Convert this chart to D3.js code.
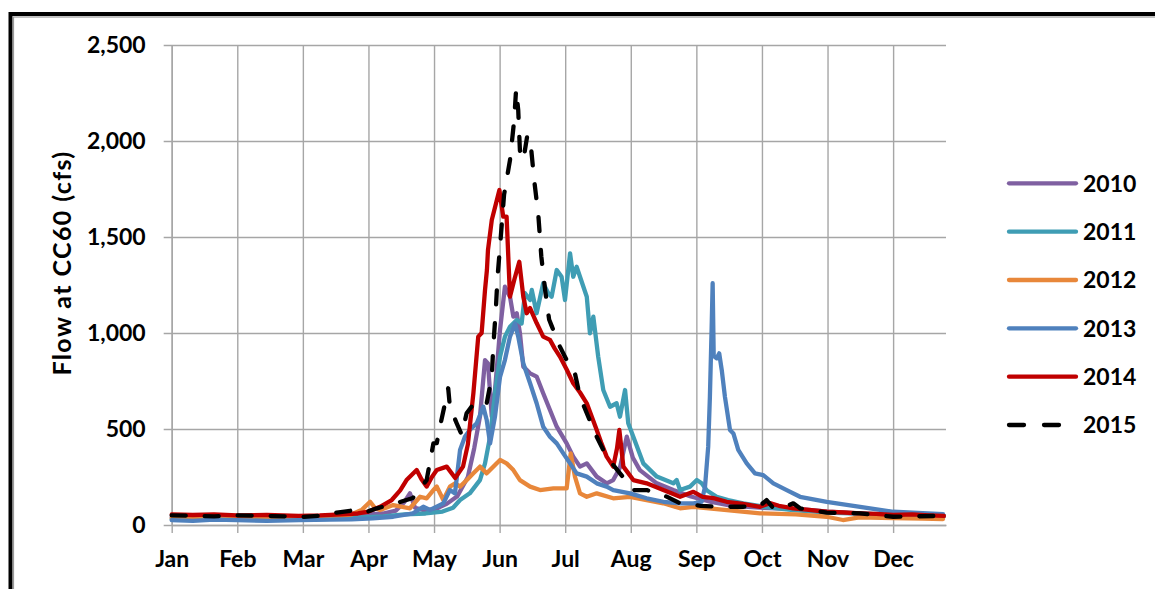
<!DOCTYPE html>
<html>
<head>
<meta charset="utf-8">
<script src="https://cdn.jsdelivr.net/npm/d3@7"></script>
<style>
  html, body { margin: 0; padding: 0; background: #fff; }
  svg { display: block; }
  text { font-family: Lato, "Open Sans", sans-serif; font-weight: 700; fill: #000; }
</style>
</head>
<body>
<svg id="chart" width="1155" height="589"></svg>
<script>
// ---------- DATA (day of year, flow in cfs) ----------
const months = ["Jan","Feb","Mar","Apr","May","Jun","Jul","Aug","Sep","Oct","Nov","Dec"];
const monthTickDays = [0,31,62,93,124,155,186,217,248,279,310,341];
const yTicks = [0,500,1000,1500,2000,2500];
const seriesNames = ["2010","2011","2012","2013","2014","2015"];

const flow2010 = [[0,40],[10,38],[20,42],[31,40],[45,40],[60,38],[75,42],[85,45],[93,55],[100,60],[106,75],[110,120],[112.6,165],[115,90],[120,75],[125,85],[130,110],[135,150],[140,250],[143,400],[145.7,564],[148.1,859],[149.5,842],[151.3,564],[152.8,700],[155.2,1016],[157.5,1241],[159.9,1189],[161.5,1085],[163.1,1103],[164.6,1000],[166.2,825],[169.4,790],[172.5,773],[175.6,686],[178.8,599],[182,512],[186.7,425],[189.8,356],[193,304],[196.2,321],[200.9,252],[205.6,217],[208.7,234],[211.9,300],[215.1,460],[218,350],[221.3,286],[229.3,217],[237.1,182],[245,150],[255,120],[265,100],[278,90],[290,85],[300,80],[310,70],[325,60],[341,50],[355,48],[365,45]];

const flow2011 = [[0,30],[10,28],[20,32],[31,30],[45,30],[60,28],[75,32],[90,40],[100,45],[110,55],[120,60],[128,70],[133,90],[136.3,130],[140.9,165],[145.7,234],[148.1,321],[150.5,460],[152.8,686],[155.2,877],[157.5,981],[159.9,1033],[163.1,1068],[165.4,1050],[167,1207],[169.4,1172],[170.2,1224],[172.5,1103],[175.6,1259],[178,1207],[179.6,1189],[182,1328],[184.3,1293],[185.9,1172],[188.3,1415],[189.8,1293],[191.4,1345],[193,1293],[196.2,1189],[197.7,998],[199.3,1085],[201.6,877],[204,703],[207.2,616],[210.3,634],[211.9,564],[214.3,703],[215.8,530],[218.2,460],[222.9,321],[229.3,252],[237.1,217],[238.7,234],[240.3,182],[245,200],[248.2,234],[250.5,217],[253,180],[257.6,147],[263,130],[270.1,113],[280,95],[293.8,78],[310,65],[325,60],[341,52],[355,50],[365,48]];

const flow2012 = [[0,35],[10,38],[20,32],[31,35],[45,33],[60,35],[75,40],[85,55],[90,80],[93.8,121],[96,90],[98.5,78],[104.7,104],[112.6,87],[117.4,147],[120.5,139],[123.7,182],[125.3,200],[128.4,130],[131.5,200],[134,217],[136.3,200],[140,240],[142.6,269],[145.7,304],[148.9,269],[152,304],[155.2,339],[158.3,321],[161.5,286],[164.6,234],[169.4,200],[174.1,182],[180.4,191],[186.7,191],[188.6,373],[190.6,252],[193,165],[196.2,147],[200.9,165],[208.7,139],[216.6,147],[224.5,130],[232.4,113],[240.3,87],[246.6,95],[260,80],[278.1,61],[295,55],[309.6,43],[317.3,26],[325,40],[341,36],[355,33],[364.6,31]];

const flow2013 = [[0,25],[10,22],[20,28],[31,25],[45,22],[60,25],[75,28],[85,30],[95,35],[104.7,43],[114.1,61],[118.9,95],[122.1,78],[128.4,113],[131.5,182],[133.9,165],[136.3,391],[138.6,460],[140.9,495],[144.2,530],[147.3,616],[148.9,547],[150.5,425],[152.8,564],[155.2,772],[157.5,859],[159.9,981],[162.3,1050],[163.8,981],[166.2,842],[169.4,738],[172.5,634],[175.6,512],[178.8,460],[182,425],[185.1,373],[188.3,321],[191.4,269],[196.2,252],[200.9,217],[205.6,200],[208.7,182],[216.6,165],[224.5,139],[232.4,121],[240.3,113],[246.6,113],[250.5,121],[252.1,200],[253.6,408],[254.4,668],[255.2,1016],[255.7,1259],[256.2,880],[257.6,868],[258.8,894],[260,807],[261.5,668],[263.9,495],[265.5,477],[267.8,391],[271.8,321],[275.7,269],[279.6,260],[284.4,217],[290.7,182],[297,147],[309.6,121],[325.4,95],[341.1,69],[355,62],[364.6,57]];

const flow2014 = [[0,55],[10,52],[20,55],[31,50],[45,52],[60,48],[70,50],[80,55],[88,60],[93,70],[98.5,95],[104,130],[108,180],[111,234],[115.8,286],[118,240],[120.5,200],[123,250],[125.3,286],[130,304],[134,245],[137.7,304],[140,420],[142.6,686],[144.9,981],[146.5,1000],[148.1,1224],[149,1328],[149.5,1432],[151.3,1589],[154.9,1745],[156.7,1606],[158.3,1606],[159.1,1398],[159.9,1189],[162,1280],[164.3,1371],[166.2,1189],[167.8,1103],[169.4,1130],[172.5,1052],[175.6,981],[178.8,964],[181,920],[183.5,877],[186.7,810],[189.8,738],[193,690],[196.2,634],[200.9,495],[203,430],[205.6,356],[208.7,304],[210.5,400],[211.6,495],[213.5,304],[218.2,234],[224.5,217],[232.4,182],[240.3,147],[246.6,173],[251,147],[256,140],[262.3,121],[270,110],[278.1,95],[282.8,114],[287,100],[293.8,87],[300,80],[309.6,69],[318,65],[325.4,61],[333,58],[341.1,52],[350,55],[358,50],[365,47]];

const flow2015 = [[0,50],[10,48],[20,45],[31,50],[45,47],[55,45],[62,42],[70,48],[78,65],[85,75],[90,60],[97,87],[105,110],[114,141],[120.5,234],[123.7,425],[125.3,427],[126.8,512],[129.2,634],[130.7,712],[131.5,616],[134.7,530],[137.1,469],[139.4,582],[142,620],[145.7,651],[148.9,634],[151.3,772],[152.0,929],[153.2,1120],[154.0,1290],[155.2,1450],[157.1,1720],[159.9,1900],[161.9,2110],[162.8,2270],[163.8,2160],[164.6,1950],[166.2,1900],[168.1,2030],[170.0,1950],[171.3,1800],[173.3,1615],[174.7,1400],[176.5,1225],[178.4,1070],[179.5,1040],[183.5,929],[186.7,859],[189.1,842],[190.6,790],[193.0,668],[196.9,564],[200.9,460],[205.6,356],[211.9,269],[218.2,182],[224.5,182],[232.4,156],[240.3,113],[250,100],[260,95],[270.1,95],[278,100],[281.2,130],[284.4,87],[290,95],[293.8,113],[297,87],[309.6,64],[325.4,61],[341.1,43],[350,45],[359.8,47],[365,45]];

const seriesData = [flow2010, flow2011, flow2012, flow2013, flow2014, flow2015];

// ---------- STYLE ----------
const colors = ["#7F60A1","#3F9DB4","#E8873A","#4F81BD","#C00000","#000000"];
const dashes = [null,null,null,null,null,"14,19"];

// ---------- LAYOUT ----------
const svg = d3.select("#chart");
const L = 171.7, R = 946, T = 45, B = 525;
const x = d3.scaleLinear().domain([0,366]).range([L,R]);
const y = d3.scaleLinear().domain([0,2500]).range([B,T]);
const gridColor = "#A6A6A6";
const fontSize = 23;

// outer frame
svg.append("rect").attr("x",10.5).attr("y",14).attr("width",1300).attr("height",800)
  .attr("fill","none").attr("stroke","#000").attr("stroke-width",4);
svg.append("rect").attr("x",13.5).attr("y",17).attr("width",1300).attr("height",800)
  .attr("fill","none").attr("stroke","#9a9a9a").attr("stroke-width",1.2);

// y axis with gridlines
const gy = svg.append("g").attr("transform",`translate(${L},0)`)
  .call(d3.axisLeft(y).tickValues(yTicks).tickFormat(d3.format(","))
    .tickSizeInner(-(R-L)).tickSizeOuter(0).tickPadding(26));
gy.select(".domain").attr("stroke",gridColor).attr("stroke-width",1.4);
gy.selectAll(".tick line").attr("x1",-8).attr("stroke",gridColor).attr("stroke-width",1.4);
gy.selectAll(".tick text").attr("font-size",fontSize).attr("font-family",null).attr("fill","#000");

// x axis with gridlines
const gx = svg.append("g").attr("transform",`translate(0,${B})`)
  .call(d3.axisBottom(x).tickValues(monthTickDays).tickFormat((d,i)=>months[i])
    .tickSizeInner(-(B-T)).tickSizeOuter(0));
gx.select(".domain").attr("stroke",gridColor).attr("stroke-width",1.4);
gx.selectAll(".tick line").attr("y1",8).attr("stroke",gridColor).attr("stroke-width",1.4);
gx.selectAll(".tick text").attr("font-size",fontSize).attr("font-family",null).attr("fill","#000")
  .attr("y",42).attr("dy","0");

// y axis title
svg.append("text").attr("transform","translate(71,263) rotate(-90)")
  .attr("text-anchor","middle").attr("font-size",25).attr("letter-spacing","1.4px")
  .text("Flow at CC60 (cfs)");

// lines
const line = d3.line().x(d=>x(d[0])).y(d=>y(d[1]));
const plot = svg.append("g");
seriesData.forEach((data,i)=>{
  plot.append("path").datum(data).attr("d",line)
    .attr("fill","none").attr("stroke",colors[i]).attr("stroke-width",4.3)
    .attr("stroke-linejoin","round")
    .attr("stroke-linecap","round")
    .attr("stroke-dasharray",dashes[i]);
});

// legend
const legY = d3.scalePoint().domain(seriesNames).range([183.3,425]);
const leg = svg.append("g");
seriesNames.forEach((n,i)=>{
  leg.append("line").attr("x1",1009).attr("x2",1076).attr("y1",legY(n)).attr("y2",legY(n))
    .attr("stroke",colors[i]).attr("stroke-width",4.3).attr("stroke-linecap","round")
    .attr("stroke-dasharray",dashes[i] ? "15,20" : null);
  leg.append("text").attr("x",1083).attr("y",legY(n)).attr("dy","0.36em")
    .attr("font-size",fontSize).text(n);
});
</script>
</body>
</html>
